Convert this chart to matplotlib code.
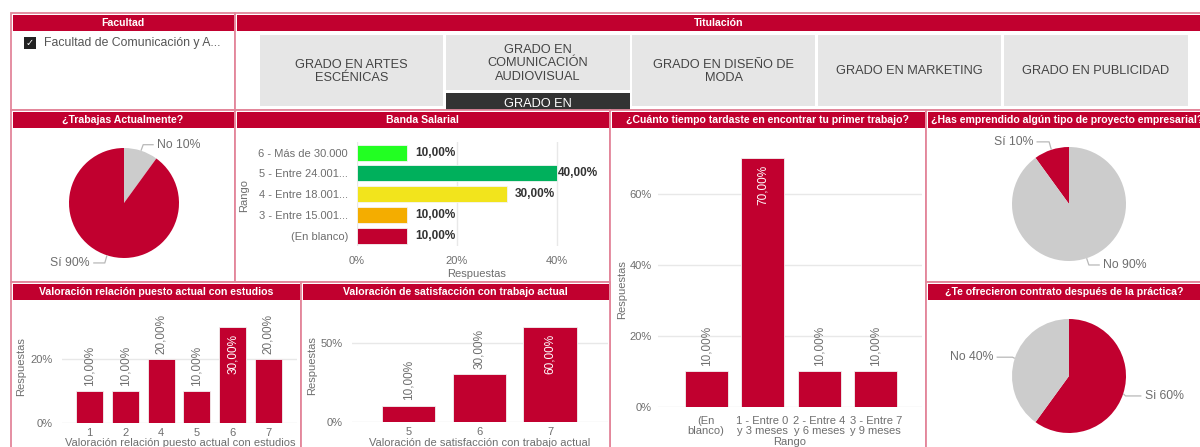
import matplotlib
matplotlib.use('Agg')
import matplotlib.pyplot as plt
from matplotlib.patches import Rectangle
import numpy as np

plt.rcParams['font.family'] = ['Liberation Sans', 'DejaVu Sans']

W, H = 1200, 447
CRIMSON = '#c1002f'
PIE_GRAY = '#cccccc'
BORDER = '#e3869b'
TXT = '#6e6e6e'
GRID = '#e8e8e8'

# ---------------- data ----------------
facultad = "Facultad de Comunicación y A..."
titulaciones = ["GRADO EN ARTES\nESCÉNICAS", "GRADO EN\nCOMUNICACIÓN\nAUDIOVISUAL",
                "GRADO EN DISEÑO DE\nMODA", "GRADO EN MARKETING", "GRADO EN PUBLICIDAD"]
titulacion_sel = "GRADO EN"

trabajas_labels = ["No", "Sí"]
trabajas_values = [10, 90]

banda_labels = ["6 - Más de 30.000", "5 - Entre 24.001...", "4 - Entre 18.001...",
                "3 - Entre 15.001...", "(En blanco)"]
banda_values = [10, 40, 30, 10, 10]
banda_colors = ['#22ff22', '#00b05c', '#f2e41c', '#f4ad00', CRIMSON]

tiempo_labels = ["(En\nblanco)", "1 - Entre 0\ny 3 meses", "2 - Entre 4\ny 6 meses", "3 - Entre 7\ny 9 meses"]
tiempo_values = [10, 70, 10, 10]

emprendido_labels = ["Sí", "No"]
emprendido_values = [10, 90]

relacion_labels = ["1", "2", "4", "5", "6", "7"]
relacion_values = [10, 10, 20, 10, 30, 20]

satisf_labels = ["5", "6", "7"]
satisf_values = [10, 30, 60]

contrato_labels = ["Si", "No"]
contrato_values = [60, 40]

# ---------------- figure ----------------
fig = plt.figure(figsize=(12, 4.47), dpi=100)
bg = fig.add_axes([0, 0, 1, 1])
bg.set_xlim(0, W)
bg.set_ylim(H, 0)
bg.axis('off')


def rect(x0, y0, x1, y1, fc, ec='none', lw=0, z=1):
    bg.add_patch(Rectangle((x0, y0), x1 - x0, y1 - y0, facecolor=fc, edgecolor=ec, lw=lw, zorder=z))


def ax_px(x0, y0, x1, y1):
    a = fig.add_axes([x0 / W, 1 - y1 / H, (x1 - x0) / W, (y1 - y0) / H])
    a.patch.set_alpha(0)
    return a


def panel(x0, y0, x1, y1, title, ha='center', z=1):
    rect(x0, y0, x1, y1, 'white', BORDER, 1.3, z=z)
    rect(x0 + 1.5, y0 + 2, x1 - 1.5, y0 + 18, CRIMSON, z=z)
    tx = (x0 + x1) / 2 if ha == 'center' else x0 + 5
    bg.text(tx, y0 + 10, title, color='white', fontweight='bold', fontsize=7.6,
            ha=ha, va='center', zorder=z + 0.5)


# top row
panel(11, 13, 235, 110, "Facultad", z=1)
panel(235, 13, 1203, 110, "Titulación", z=1)
rect(24, 37, 36, 49, '#222222', z=2)
bg.text(30, 43.3, '✓', color='white', fontsize=7, ha='center', va='center',
        family='DejaVu Sans', zorder=2.5)
bg.text(44, 43, facultad, color='#555555', fontsize=8.8, ha='left', va='center', zorder=2.5)

btn_boxes = [(260, 35, 443, 106), (446, 35, 630, 90), (632, 35, 815, 106),
             (818, 35, 1001, 106), (1004, 35, 1188, 106)]
for (x0, y0, x1, y1), lab in zip(btn_boxes, titulaciones):
    rect(x0, y0, x1, y1, '#e6e6e6', z=2)
    bg.text((x0 + x1) / 2, (y0 + y1) / 2 + 1, lab, color='#444444', fontsize=9.2,
            ha='center', va='center', multialignment='center', linespacing=1.2, zorder=2.5)
rect(446, 93, 630, 112, '#333333', z=2)
bg.text(538, 104, titulacion_sel, color='white', fontsize=9.2, ha='center', va='center', zorder=2.5)

# second row panels
panel(11, 110, 235, 282, "¿Trabajas Actualmente?", z=4)
panel(235, 110, 610, 282, "Banda Salarial", z=4)
panel(610, 110, 926, 449, "¿Cuánto tiempo tardaste en encontrar tu primer trabajo?", z=4)
panel(926, 110, 1203, 282, "¿Has emprendido algún tipo de proyecto empresarial?", ha='left', z=4)
# third row panels
panel(11, 282, 301, 449, "Valoración relación puesto actual con estudios", z=6)
panel(301, 282, 610, 449, "Valoración de satisfacción con trabajo actual", z=6)
panel(926, 282, 1203, 449, "¿Te ofrecieron contrato después de la práctica?", z=6)


def fmt(v):
    return f"{v:.2f}%".replace('.', ',')


# ---------------- pies ----------------
def pie(cx, cy, r, labels, values, colors, counterclock, label_xy):
    ax = ax_px(cx - r, cy - r, cx + r, cy + r)
    wedges, _ = ax.pie(values, colors=colors, startangle=90, counterclock=counterclock,
                       radius=1, wedgeprops=dict(linewidth=0))
    ax.set_xlim(-1, 1)
    ax.set_ylim(-1, 1)
    for w, lab, v, (lx, ly) in zip(wedges, labels, values, label_xy):
        th = (w.theta1 + w.theta2) / 2
        ex, ey = np.cos(np.radians(th)), np.sin(np.radians(th))
        sgn = 1 if lx > 0 else -1
        elbow_x = ex + sgn * 0.04
        end_x = lx - sgn * 0.06
        ax.plot([ex, elbow_x, end_x], [ey, ly, ly], color='#b8b8b8', lw=0.9,
                clip_on=False, solid_capstyle='butt')
        ha = 'left' if sgn > 0 else 'right'
        ax.text(lx, ly, f"{lab} {v}%", ha=ha, va='center', color=TXT, fontsize=8.8,
                clip_on=False)
    return ax


pie(124, 203, 55, trabajas_labels, trabajas_values, [PIE_GRAY, CRIMSON], False,
    [(0.6, 1.06), (-0.62, -1.09)])
pie(1069, 204, 57, emprendido_labels, emprendido_values, [CRIMSON, PIE_GRAY], True,
    [(-0.63, 1.09), (0.6, -1.07)])
pie(1069, 376, 57, contrato_labels, contrato_values, [CRIMSON, PIE_GRAY], False,
    [(1.33, -0.35), (-1.33, 0.33)])


# ---------------- bar helpers ----------------
def style(ax):
    for s in ax.spines.values():
        s.set_visible(False)
    ax.tick_params(length=0, colors=TXT, labelsize=8)
    ax.set_axisbelow(True)


# Banda salarial (horizontal)
ax = ax_px(357, 142.3, 597, 246)
style(ax)
yy = np.arange(len(banda_values))
ax.barh(yy, banda_values, height=0.77, color=banda_colors, edgecolor='#f4f4f4', lw=0.6, zorder=2)
ax.set_ylim(len(banda_values) - 0.5, -0.5)
ax.set_xlim(0, 48)
ax.set_yticks(yy)
ax.set_yticklabels(banda_labels)
ax.set_xticks([0, 20, 40])
ax.set_xticklabels(["0%", "20%", "40%"])
ax.tick_params(axis='y', pad=6.5, labelsize=8)
ax.tick_params(axis='x', pad=7.5, labelsize=8)
ax.grid(axis='x', color=GRID, lw=1)
vmax = max(banda_values)
for i, v in enumerate(banda_values):
    off = 0.2 if v == vmax else 1.6
    ax.text(v + off, i, fmt(v), ha='left', va='center', fontweight='bold',
            fontsize=8.5, color='#333333', clip_on=False)
bg.text(477, 274, "Respuestas", color=TXT, fontsize=8, ha='center', va='center', zorder=10)
bg.text(244, 195, "Rango", color=TXT, fontsize=8, ha='center', va='center', rotation=90, zorder=10)


def vbar(box, labels, values, width, xlim, ylim, yticks, ypad, xpad, linesp=1.0):
    ax = ax_px(*box)
    style(ax)
    x = np.arange(len(values))
    ax.bar(x, values, width=width, color=CRIMSON, edgecolor='#f2f2f2', lw=0.6, zorder=2)
    ax.set_xlim(*xlim)
    ax.set_ylim(*ylim)
    ax.set_xticks(x)
    ax.set_xticklabels(labels, linespacing=linesp)
    ax.set_yticks(yticks)
    ax.set_yticklabels([f"{t}%" for t in yticks])
    ax.tick_params(axis='y', pad=ypad)
    ax.tick_params(axis='x', pad=xpad)
    ax.grid(axis='y', color=GRID, lw=1)
    vmax = max(values)
    for i, v in enumerate(values):
        if v == vmax:
            ax.annotate(fmt(v), (i, v), xytext=(0, -5), textcoords='offset points',
                        rotation=90, ha='center', va='top', color='white', fontsize=8.5,
                        annotation_clip=False)
        else:
            ax.annotate(fmt(v), (i, v), xytext=(0, 4), textcoords='offset points',
                        rotation=90, ha='center', va='bottom', color=TXT, fontsize=8.5,
                        annotation_clip=False)
    return ax


# tiempo
vbar((658, 144, 922, 406.7), tiempo_labels, tiempo_values, 0.76, (-0.85, 3.82), (0, 74),
     [0, 20, 40, 60], 4.3, 6.5, linesp=1.0)
bg.text(622, 290, "Respuestas", color=TXT, fontsize=8, ha='center', va='center', rotation=90, zorder=10)
bg.text(790, 442, "Rango", color=TXT, fontsize=8, ha='center', va='center', zorder=10)

# relacion
vbar((62, 314.5, 297, 423.3), relacion_labels, relacion_values, 0.755, (-0.77, 5.8), (0, 34),
     [0, 20], 7, 3.6)
bg.text(21, 367, "Respuestas", color=TXT, fontsize=8, ha='center', va='center', rotation=90, zorder=10)
bg.text(180, 443, "Valoración relación puesto actual con estudios", color=TXT, fontsize=8,
        ha='center', va='center', zorder=10)

# satisfaccion
vbar((352, 323.7, 608, 421.7), satisf_labels, satisf_values, 0.75, (-0.8, 2.82), (0, 62),
     [0, 50], 6.5, 3.6)
bg.text(312, 366, "Respuestas", color=TXT, fontsize=8, ha='center', va='center', rotation=90, zorder=10)
bg.text(480, 443, "Valoración de satisfacción con trabajo actual", color=TXT, fontsize=8,
        ha='center', va='center', zorder=10)

fig.savefig('out.png', dpi=100)
